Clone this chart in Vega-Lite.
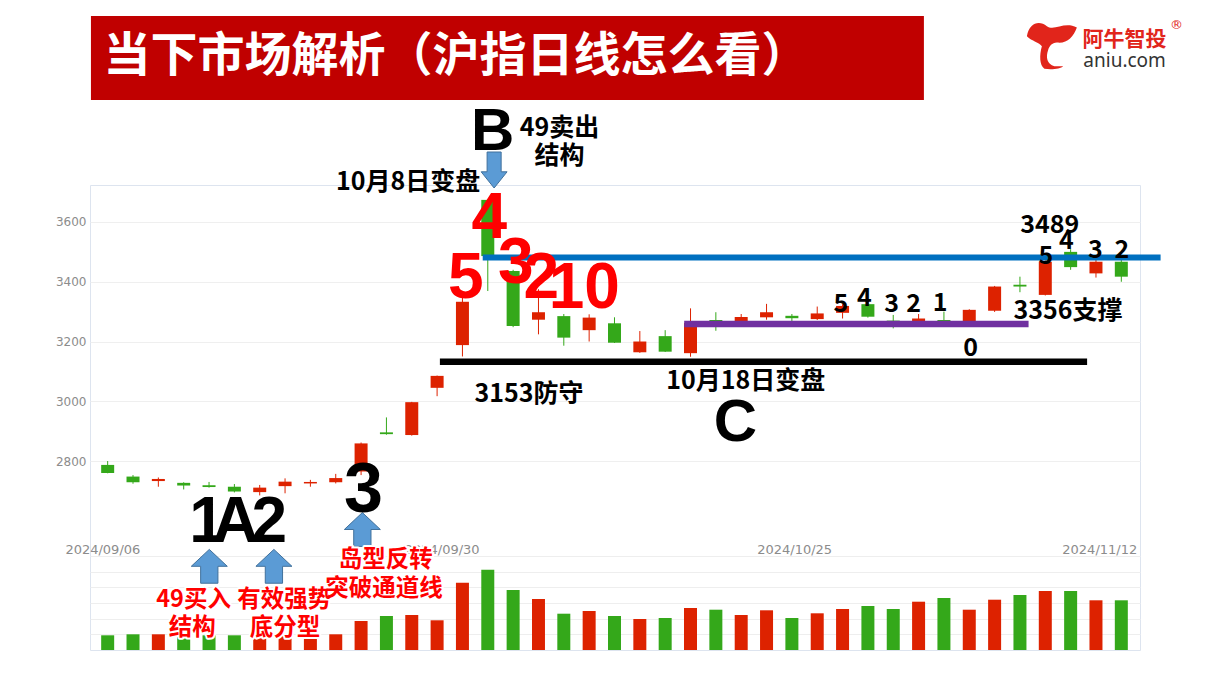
{
  "$schema": "https://vega.github.io/schema/vega-lite/v6.json",
  "width": 1050,
  "height": 465,
  "autosize": {"type": "none"},
  "padding": {"left": 90, "top": 185, "right": 71, "bottom": 23},
  "background": "#ffffff",
  "config": {"view": {"stroke": "#dde4ef", "strokeWidth": 1}},
  "datasets": {
    "candles": [
      {"i": 0, "date": "2024-09-06", "open": 2787, "high": 2800, "low": 2759, "close": 2760, "vol": 1470, "dir": "down"},
      {"i": 1, "date": "2024-09-09", "open": 2748, "high": 2753, "low": 2724, "close": 2729, "vol": 1570, "dir": "down"},
      {"i": 2, "date": "2024-09-10", "open": 2733, "high": 2745, "low": 2714, "close": 2740, "vol": 1570, "dir": "up"},
      {"i": 3, "date": "2024-09-11", "open": 2727, "high": 2729, "low": 2705, "close": 2718, "vol": 1470, "dir": "down"},
      {"i": 4, "date": "2024-09-12", "open": 2719, "high": 2730, "low": 2711, "close": 2713, "vol": 1470, "dir": "down"},
      {"i": 5, "date": "2024-09-13", "open": 2714, "high": 2723, "low": 2695, "close": 2698, "vol": 1470, "dir": "down"},
      {"i": 6, "date": "2024-09-18", "open": 2696, "high": 2720, "low": 2685, "close": 2711, "vol": 1570, "dir": "up"},
      {"i": 7, "date": "2024-09-19", "open": 2716, "high": 2742, "low": 2692, "close": 2731, "vol": 1570, "dir": "up"},
      {"i": 8, "date": "2024-09-20", "open": 2725, "high": 2737, "low": 2714, "close": 2730, "vol": 1500, "dir": "up"},
      {"i": 9, "date": "2024-09-23", "open": 2729, "high": 2757, "low": 2725, "close": 2743, "vol": 1570, "dir": "up"},
      {"i": 10, "date": "2024-09-24", "open": 2765, "high": 2862, "low": 2753, "close": 2859, "vol": 2900, "dir": "up"},
      {"i": 11, "date": "2024-09-25", "open": 2896, "high": 2946, "low": 2888, "close": 2890, "vol": 3400, "dir": "down"},
      {"i": 12, "date": "2024-09-26", "open": 2887, "high": 2998, "low": 2885, "close": 2997, "vol": 3500, "dir": "up"},
      {"i": 13, "date": "2024-09-27", "open": 3045, "high": 3086, "low": 3017, "close": 3085, "vol": 2970, "dir": "up"},
      {"i": 14, "date": "2024-09-30", "open": 3188, "high": 3356, "low": 3150, "close": 3333, "vol": 6730, "dir": "up"},
      {"i": 15, "date": "2024-10-08", "open": 3674, "high": 3674, "low": 3369, "close": 3486, "vol": 8030, "dir": "down"},
      {"i": 16, "date": "2024-10-09", "open": 3436, "high": 3440, "low": 3248, "close": 3252, "vol": 6000, "dir": "down"},
      {"i": 17, "date": "2024-10-10", "open": 3273, "high": 3375, "low": 3224, "close": 3298, "vol": 5100, "dir": "up"},
      {"i": 18, "date": "2024-10-11", "open": 3285, "high": 3292, "low": 3186, "close": 3213, "vol": 3630, "dir": "down"},
      {"i": 19, "date": "2024-10-14", "open": 3238, "high": 3291, "low": 3200, "close": 3280, "vol": 3900, "dir": "up"},
      {"i": 20, "date": "2024-10-15", "open": 3261, "high": 3281, "low": 3195, "close": 3196, "vol": 3400, "dir": "down"},
      {"i": 21, "date": "2024-10-16", "open": 3164, "high": 3235, "low": 3162, "close": 3200, "vol": 3100, "dir": "up"},
      {"i": 22, "date": "2024-10-17", "open": 3218, "high": 3238, "low": 3165, "close": 3166, "vol": 3200, "dir": "down"},
      {"i": 23, "date": "2024-10-18", "open": 3161, "high": 3311, "low": 3149, "close": 3262, "vol": 4200, "dir": "up"},
      {"i": 24, "date": "2024-10-21", "open": 3272, "high": 3298, "low": 3236, "close": 3268, "vol": 4030, "dir": "down"},
      {"i": 25, "date": "2024-10-22", "open": 3268, "high": 3292, "low": 3265, "close": 3282, "vol": 3500, "dir": "up"},
      {"i": 26, "date": "2024-10-23", "open": 3281, "high": 3326, "low": 3273, "close": 3298, "vol": 3970, "dir": "up"},
      {"i": 27, "date": "2024-10-24", "open": 3286, "high": 3292, "low": 3268, "close": 3278, "vol": 3200, "dir": "down"},
      {"i": 28, "date": "2024-10-25", "open": 3275, "high": 3317, "low": 3272, "close": 3294, "vol": 3670, "dir": "up"},
      {"i": 29, "date": "2024-10-28", "open": 3296, "high": 3325, "low": 3277, "close": 3319, "vol": 4100, "dir": "up"},
      {"i": 30, "date": "2024-10-29", "open": 3325, "high": 3330, "low": 3280, "close": 3283, "vol": 4400, "dir": "down"},
      {"i": 31, "date": "2024-10-30", "open": 3270, "high": 3289, "low": 3244, "close": 3267, "vol": 4100, "dir": "down"},
      {"i": 32, "date": "2024-10-31", "open": 3268, "high": 3292, "low": 3262, "close": 3277, "vol": 4830, "dir": "up"},
      {"i": 33, "date": "2024-11-01", "open": 3272, "high": 3300, "low": 3255, "close": 3266, "vol": 5200, "dir": "down"},
      {"i": 34, "date": "2024-11-04", "open": 3268, "high": 3308, "low": 3265, "close": 3306, "vol": 4030, "dir": "up"},
      {"i": 35, "date": "2024-11-05", "open": 3303, "high": 3386, "low": 3299, "close": 3384, "vol": 5030, "dir": "up"},
      {"i": 36, "date": "2024-11-06", "open": 3390, "high": 3417, "low": 3365, "close": 3384, "vol": 5500, "dir": "down"},
      {"i": 37, "date": "2024-11-07", "open": 3356, "high": 3472, "low": 3354, "close": 3467, "vol": 5900, "dir": "up"},
      {"i": 38, "date": "2024-11-08", "open": 3500, "high": 3509, "low": 3440, "close": 3449, "vol": 5900, "dir": "down"},
      {"i": 39, "date": "2024-11-11", "open": 3428, "high": 3473, "low": 3414, "close": 3467, "vol": 4970, "dir": "up"},
      {"i": 40, "date": "2024-11-12", "open": 3467, "high": 3476, "low": 3400, "close": 3417, "vol": 4970, "dir": "down"}
    ],
    "notes": [
      {"text": "5", "i": 14.13, "p": 3345.7, "kind": "redBig"},
      {"text": "4", "i": 15.06, "p": 3546.5, "kind": "redBig"},
      {"text": "3", "i": 16.11, "p": 3395.9, "kind": "redBig"},
      {"text": "2", "i": 17.11, "p": 3345.7, "kind": "redBig"},
      {"text": "10", "i": 18.81, "p": 3312.2, "kind": "redBig"},
      {"text": "B", "i": 15.19, "p": 3841, "kind": "letter"},
      {"text": "C", "i": 24.77, "p": 2867, "kind": "letter"},
      {"text": "1", "i": 3.92, "p": 2529, "kind": "tight"},
      {"text": "A", "i": 5.05, "p": 2529, "kind": "tight"},
      {"text": "2", "i": 6.38, "p": 2529, "kind": "tight"},
      {"text": "3", "i": 10.09, "p": 2629.5, "kind": "huge"},
      {"text": "49卖出", "i": 17.83, "p": 3921.3, "kind": "label"},
      {"text": "结构", "i": 17.83, "p": 3827.6, "kind": "label"},
      {"text": "10月8日变盘", "i": 11.86, "p": 3740.6, "kind": "label"},
      {"text": "3153防守", "i": 16.63, "p": 3030.4, "kind": "label"},
      {"text": "10月18日变盘", "i": 25.18, "p": 3073.9, "kind": "label"},
      {"text": "3489", "i": 37.18, "p": 3596.7, "kind": "label"},
      {"text": "5", "i": 37.02, "p": 3492.2, "kind": "label"},
      {"text": "4", "i": 37.83, "p": 3543.1, "kind": "label"},
      {"text": "3", "i": 38.98, "p": 3513, "kind": "label"},
      {"text": "2", "i": 40.02, "p": 3513, "kind": "label"},
      {"text": "5", "i": 28.93, "p": 3333.3, "kind": "label"},
      {"text": "4", "i": 29.86, "p": 3352.3, "kind": "label"},
      {"text": "3", "i": 30.94, "p": 3330.6, "kind": "label"},
      {"text": "2", "i": 31.8, "p": 3330.6, "kind": "label"},
      {"text": "1", "i": 32.85, "p": 3335.6, "kind": "label"},
      {"text": "0", "i": 34.05, "p": 3184, "kind": "label"},
      {"text": "3356支撑", "i": 37.9, "p": 3307.8, "kind": "label"},
      {"text": "49买入", "i": 3.39, "p": 2340.6, "kind": "redCJK"},
      {"text": "结构", "i": 3.34, "p": 2247.9, "kind": "redCJK"},
      {"text": "有效强势", "i": 6.97, "p": 2343.3, "kind": "redCJK"},
      {"text": "底分型", "i": 7.0, "p": 2247.9, "kind": "redCJK"},
      {"text": "岛型反转", "i": 10.97, "p": 2474.5, "kind": "redCJK"},
      {"text": "突破通道线", "i": 10.9, "p": 2376.8, "kind": "redCJK"},
      {"text": "当下市场解析（沪指日线怎么看）", "i": -0.16, "p": 4164.6, "kind": "title"},
      {"text": "阿牛智投", "i": 40.13, "p": 4214.8, "kind": "brand"},
      {"text": "®", "i": 42.18, "p": 4258.3, "kind": "reg"},
      {"text": "aniu.com", "i": 40.13, "p": 4142.2, "kind": "site"}
    ],
    "arrows": [
      {"i": 4.01, "p": 2447.7, "way": "up"},
      {"i": 6.56, "p": 2447.7, "way": "up"},
      {"i": 10.05, "p": 2570.9, "way": "up"},
      {"i": 15.25, "p": 3774, "way": "down"}
    ],
    "levels": [
      {"name": "resistance", "level": 3481, "from": 14.8, "to": 41.55},
      {"name": "support", "level": 3258.6, "from": 22.75, "to": 36.34},
      {"name": "defense", "level": 3132.5, "from": 13.11, "to": 38.65}
    ],
    "decor": [
      {"part": "banner", "x0": -0.66, "x1": 32.21, "y0": 4289.4, "y1": 4008.3},
      {"part": "logo", "x0": 37.26, "x1": 37.26, "y0": 4192.4, "y1": 4192.4}
    ]
  },
  "resolve": {"scale": {"y": "independent"}, "axis": {"y": "independent"}},
  "layer": [
    {
      "data": {"name": "candles"},
      "layer": [
        {
          "mark": {"type": "bar", "width": 13},
          "encoding": {
            "x": {
              "field": "i",
              "type": "quantitative",
              "scale": {"domain": [-0.5, 40.54], "nice": false, "zero": false},
              "axis": {
                "orient": "bottom",
                "offset": -107,
                "values": [-0.21, 13.18, 27.09, 39.13],
                "labelExpr": "datum.value < 5 ? '2024/09/06' : datum.value < 20 ? '2024/09/30' : datum.value < 33 ? '2024/10/25' : '2024/11/12'",
                "domain": false,
                "ticks": false,
                "tickSize": 0,
                "grid": false,
                "labelPadding": 0,
                "labelColor": "#8c8c8c",
                "labelFont": "DejaVu Sans",
                "labelFontSize": 13,
                "labelFlush": false,
                "labelOverlap": false,
                "labelBound": false,
                "title": null
              }
            },
            "y": {
              "field": "vol",
              "type": "quantitative",
              "scale": {"domain": [0, 46500], "nice": false, "zero": true},
              "axis": {"orient": "right", "values": [1567, 3133, 4700, 6267, 7833, 9400], "grid": true, "gridColor": "#eeeeee", "labels": false, "ticks": false, "domain": false, "title": null}
            },
            "color": {"field": "dir", "type": "nominal", "scale": {"domain": ["up", "down"], "range": ["#DD2200", "#34A81A"]}, "legend": null}
          }
        }
      ]
    },
    {
      "layer": [
        {
          "data": {"name": "candles"},
          "mark": {"type": "rule", "strokeWidth": 1},
          "encoding": {
            "x": {"field": "i", "type": "quantitative", "scale": {"domain": [-0.5, 40.54], "nice": false, "zero": false}},
            "y": {
              "field": "low",
              "type": "quantitative",
              "scale": {"domain": [2167.6, 3723.8], "nice": false, "zero": false},
              "axis": {"orient": "left", "values": [2800, 3000, 3200, 3400, 3600], "format": "d", "grid": true, "gridColor": "#efefef", "domain": false, "ticks": false, "labelColor": "#8c8c8c", "labelFont": "DejaVu Sans", "labelFontSize": 12, "labelPadding": 4, "title": null}
            },
            "y2": {"field": "high"},
            "color": {"field": "dir", "type": "nominal", "scale": {"domain": ["up", "down"], "range": ["#DD2200", "#34A81A"]}, "legend": null}
          }
        },
        {
          "data": {"name": "candles"},
          "mark": {"type": "bar", "width": 13},
          "encoding": {
            "x": {"field": "i", "type": "quantitative"},
            "y": {"field": "open", "type": "quantitative"},
            "y2": {"field": "close"},
            "color": {"field": "dir", "type": "nominal", "scale": {"domain": ["up", "down"], "range": ["#DD2200", "#34A81A"]}, "legend": null}
          }
        },
        {
          "data": {"name": "levels"},
          "transform": [{"filter": "datum.name == 'resistance'"}],
          "mark": {"type": "rule", "strokeWidth": 6, "color": "#0070C0", "strokeCap": "butt"},
          "encoding": {
            "x": {"field": "from", "type": "quantitative"},
            "x2": {"field": "to"},
            "y": {"field": "level", "type": "quantitative"}
          }
        },
        {
          "data": {"name": "levels"},
          "transform": [{"filter": "datum.name == 'support'"}],
          "mark": {"type": "rule", "strokeWidth": 6.5, "color": "#7030A0", "strokeCap": "butt"},
          "encoding": {
            "x": {"field": "from", "type": "quantitative"},
            "x2": {"field": "to"},
            "y": {"field": "level", "type": "quantitative"}
          }
        },
        {
          "data": {"name": "levels"},
          "transform": [{"filter": "datum.name == 'defense'"}],
          "mark": {"type": "rule", "strokeWidth": 6.5, "color": "#000000", "strokeCap": "butt"},
          "encoding": {
            "x": {"field": "from", "type": "quantitative"},
            "x2": {"field": "to"},
            "y": {"field": "level", "type": "quantitative"}
          }
        },
        {
          "data": {"name": "decor"},
          "transform": [{"filter": "datum.part == 'banner'"}],
          "mark": {"type": "rect", "color": "#C00000"},
          "encoding": {
            "x": {"field": "x0", "type": "quantitative"},
            "x2": {"field": "x1"},
            "y": {"field": "y0", "type": "quantitative"},
            "y2": {"field": "y1"}
          }
        },
        {
          "data": {"name": "decor"},
          "transform": [{"filter": "datum.part == 'logo'"}],
          "mark": {
            "type": "point",
            "filled": true,
            "color": "#E1251B",
            "opacity": 1,
            "size": 2500,
            "shape": "M-1,-0.35C-0.9,-0.9,-0.5,-1,-0.2,-0.75C0.1,-0.55,0.5,-0.95,1,-0.7C0.85,-0.3,0.6,-0.05,0.2,-0.1C0,-0.1,-0.1,0.05,-0.15,0.2C-0.25,0.5,-0.2,0.75,0.1,0.85L0.45,0.85C0.35,0.95,0,1,-0.3,0.95C-0.5,0.8,-0.5,0.4,-0.4,0.05C-0.5,-0.1,-0.8,-0.15,-1,-0.35Z"
          },
          "encoding": {
            "x": {"field": "x0", "type": "quantitative"},
            "y": {"field": "y0", "type": "quantitative"}
          }
        },
        {
          "data": {"name": "arrows"},
          "transform": [{"filter": "datum.way == 'up'"}],
          "mark": {"type": "point", "filled": true, "opacity": 1, "color": "#5B9BD5", "stroke": "#41719C", "strokeWidth": 1, "size": 1296, "shape": "M0,-0.94L1,0L0.48,0L0.48,0.94L-0.48,0.94L-0.48,0L-1,0Z"},
          "encoding": {
            "x": {"field": "i", "type": "quantitative"},
            "y": {"field": "p", "type": "quantitative"}
          }
        },
        {
          "data": {"name": "arrows"},
          "transform": [{"filter": "datum.way == 'down'"}],
          "mark": {"type": "point", "filled": true, "opacity": 1, "color": "#5B9BD5", "stroke": "#41719C", "strokeWidth": 1, "size": 1296, "shape": "M-0.39,-1L0.39,-1L0.39,0.1L0.72,0.1L0,1L-0.72,0.1L-0.39,0.1Z"},
          "encoding": {
            "x": {"field": "i", "type": "quantitative"},
            "y": {"field": "p", "type": "quantitative"}
          }
        },
        {
          "data": {"name": "notes"},
          "transform": [{"filter": "datum.kind == 'redBig'"}],
          "mark": {"type": "text", "font": "Liberation Sans", "fontWeight": "bold", "fontSize": 64, "color": "#FF0000", "align": "center", "baseline": "alphabetic"},
          "encoding": {"x": {"field": "i", "type": "quantitative"}, "y": {"field": "p", "type": "quantitative"}, "text": {"field": "text"}}
        },
        {
          "data": {"name": "notes"},
          "transform": [{"filter": "datum.kind == 'letter'"}],
          "mark": {"type": "text", "font": "Liberation Sans", "fontWeight": "bold", "fontSize": 60, "color": "#000000", "align": "center", "baseline": "alphabetic"},
          "encoding": {"x": {"field": "i", "type": "quantitative"}, "y": {"field": "p", "type": "quantitative"}, "text": {"field": "text"}}
        },
        {
          "data": {"name": "notes"},
          "transform": [{"filter": "datum.kind == 'tight'"}],
          "mark": {"type": "text", "font": "Liberation Sans", "fontWeight": "bold", "fontSize": 64, "color": "#000000", "align": "center", "baseline": "alphabetic"},
          "encoding": {"x": {"field": "i", "type": "quantitative"}, "y": {"field": "p", "type": "quantitative"}, "text": {"field": "text"}}
        },
        {
          "data": {"name": "notes"},
          "transform": [{"filter": "datum.kind == 'huge'"}],
          "mark": {"type": "text", "font": "Liberation Sans", "fontWeight": "bold", "fontSize": 70, "color": "#000000", "align": "center", "baseline": "alphabetic"},
          "encoding": {"x": {"field": "i", "type": "quantitative"}, "y": {"field": "p", "type": "quantitative"}, "text": {"field": "text"}}
        },
        {
          "data": {"name": "notes"},
          "transform": [{"filter": "datum.kind == 'label'"}],
          "mark": {"type": "text", "font": "Noto Sans CJK SC", "fontWeight": "bold", "fontSize": 25, "color": "#000000", "align": "center", "baseline": "middle", "dy": 2},
          "encoding": {"x": {"field": "i", "type": "quantitative"}, "y": {"field": "p", "type": "quantitative"}, "text": {"field": "text"}}
        },
        {
          "data": {"name": "notes"},
          "transform": [{"filter": "datum.kind == 'redCJK'"}],
          "mark": {"type": "text", "font": "Noto Sans CJK SC", "fontWeight": "bold", "fontSize": 23.5, "color": "#FFFFFF", "stroke": "#FFFFFF", "strokeWidth": 4, "strokeJoin": "round", "align": "center", "baseline": "middle", "dy": 2},
          "encoding": {"x": {"field": "i", "type": "quantitative"}, "y": {"field": "p", "type": "quantitative"}, "text": {"field": "text"}}
        },
        {
          "data": {"name": "notes"},
          "transform": [{"filter": "datum.kind == 'redCJK'"}],
          "mark": {"type": "text", "font": "Noto Sans CJK SC", "fontWeight": "bold", "fontSize": 23.5, "color": "#FF0000", "align": "center", "baseline": "middle", "dy": 2},
          "encoding": {"x": {"field": "i", "type": "quantitative"}, "y": {"field": "p", "type": "quantitative"}, "text": {"field": "text"}}
        },
        {
          "data": {"name": "notes"},
          "transform": [{"filter": "datum.kind == 'title'"}],
          "mark": {"type": "text", "font": "Noto Sans CJK SC", "fontWeight": "bold", "fontSize": 47, "color": "#FFFFFF", "align": "left", "baseline": "middle", "dy": 4},
          "encoding": {"x": {"field": "i", "type": "quantitative"}, "y": {"field": "p", "type": "quantitative"}, "text": {"field": "text"}}
        },
        {
          "data": {"name": "notes"},
          "transform": [{"filter": "datum.kind == 'brand'"}],
          "mark": {"type": "text", "font": "Noto Sans CJK SC", "fontWeight": "bold", "fontSize": 21, "color": "#E1251B", "align": "center", "baseline": "middle", "dy": 2},
          "encoding": {"x": {"field": "i", "type": "quantitative"}, "y": {"field": "p", "type": "quantitative"}, "text": {"field": "text"}}
        },
        {
          "data": {"name": "notes"},
          "transform": [{"filter": "datum.kind == 'reg'"}],
          "mark": {"type": "text", "font": "DejaVu Sans", "fontSize": 13, "color": "#E1251B", "align": "center", "baseline": "middle"},
          "encoding": {"x": {"field": "i", "type": "quantitative"}, "y": {"field": "p", "type": "quantitative"}, "text": {"field": "text"}}
        },
        {
          "data": {"name": "notes"},
          "transform": [{"filter": "datum.kind == 'site'"}],
          "mark": {"type": "text", "font": "Noto Sans", "fontSize": 19, "color": "#333333", "align": "center", "baseline": "middle", "dy": 1},
          "encoding": {"x": {"field": "i", "type": "quantitative"}, "y": {"field": "p", "type": "quantitative"}, "text": {"field": "text"}}
        }
      ]
    }
  ]
}
